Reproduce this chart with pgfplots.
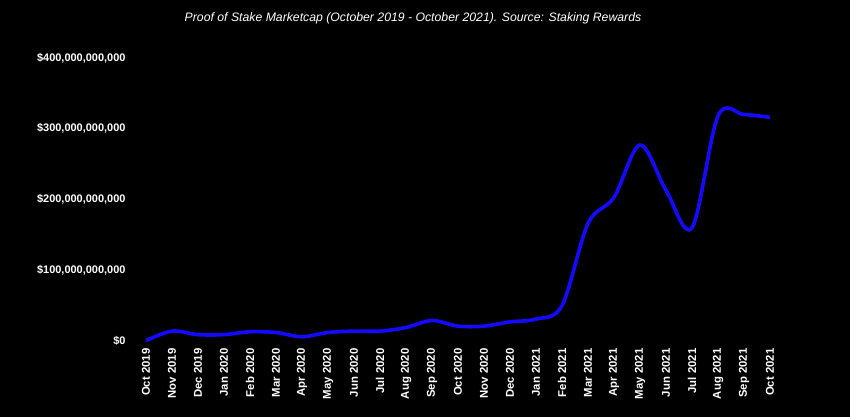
\documentclass[border=0pt]{standalone}
\usepackage{pgfplots}
\pgfplotsset{compat=1.18}
\usepackage{fontspec}
\setmainfont{Liberation Sans}
\definecolor{lineblue}{RGB}{20,10,255}
\begin{document}
\begin{tikzpicture}
\fill[black] (-146bp,-76bp) rectangle (704bp,341bp);
\begin{axis}[
  scale only axis,
  width=624bp, height=283bp,
  xmin=0, xmax=24, ymin=0, ymax=400000000000,
  axis line style={draw=none},
  tick style={draw=none},
  scaled y ticks=false,
  xtick={0,...,24},
  xticklabels={Oct 2019,Nov 2019,Dec 2019,Jan 2020,Feb 2020,Mar 2020,Apr 2020,May 2020,Jun 2020,Jul 2020,Aug 2020,Sep 2020,Oct 2020,Nov 2020,Dec 2020,Jan 2021,Feb 2021,Mar 2021,Apr 2021,May 2021,Jun 2021,Jul 2021,Aug 2021,Sep 2021,Oct 2021},
  x tick label style={rotate=90, anchor=east, font=\fontsize{11.4}{13}\selectfont\bfseries, text=white},
  xticklabel shift=4bp,
  ytick={0,100000000000,200000000000,300000000000,400000000000},
  yticklabels={\$0,{\$100,000,000,000},{\$200,000,000,000},{\$300,000,000,000},{\$400,000,000,000}},
  y tick label style={font=\fontsize{11}{13}\selectfont\bfseries, text=white},
  yticklabel shift=17bp,
  clip=false,
]
\addplot[lineblue, line width=3.6bp, smooth, tension=0.55] coordinates {
(0,0.5e9) (1,14e9) (2,9e9) (3,9e9) (4,13e9) (5,12e9) (6,6e9) (7,12e9) (8,14e9) (9,14e9) (10,19e9) (11,29e9) (12,21e9) (13,21e9) (14,27e9) (15,31e9) (16,50e9) (17,166e9) (18,203e9) (19,277e9) (20,213e9) (21,160e9) (22,318e9) (23,320e9) (24,316e9)
};
\end{axis}
\node[text=white, font=\fontsize{12.3}{14}\selectfont\itshape] at (267bp,323bp) {Proof of Stake Marketcap (October 2019 - October 2021). Source: Staking Rewards};
\pgfresetboundingbox
\useasboundingbox (-146bp,-76bp) rectangle (704bp,341bp);
\end{tikzpicture}
\end{document}
